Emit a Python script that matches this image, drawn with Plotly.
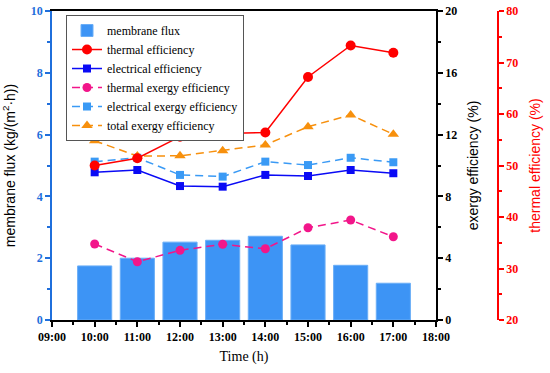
import plotly.graph_objects as go

hours = [10, 11, 12, 13, 14, 15, 16, 17]
tick_vals = [9, 10, 11, 12, 13, 14, 15, 16, 17, 18]
tick_text = ["09:00", "10:00", "11:00", "12:00", "13:00", "14:00", "15:00", "16:00", "17:00", "18:00"]

membrane_flux = [1.75, 2.00, 2.52, 2.58, 2.71, 2.43, 1.77, 1.19]
thermal_eff = [50.0, 51.4, 55.6, 56.2, 56.4, 67.2, 73.3, 71.9]
electrical_eff = [9.56, 9.71, 8.67, 8.63, 9.39, 9.32, 9.71, 9.50]
thermal_exergy = [4.92, 3.77, 4.51, 4.90, 4.61, 5.97, 6.47, 5.39]
electrical_exergy = [10.25, 10.50, 9.39, 9.28, 10.25, 10.03, 10.50, 10.21]
total_exergy = [11.60, 10.61, 10.63, 10.96, 11.33, 12.51, 13.27, 12.02]

SERIF = "Liberation Serif"
SANS = "Liberation Sans"
AXBLUE = "#1f6fdc"

W, H = 550, 373
ML, MR, MT, MB = 52, 30, 11, 53
PW = W - ML - MR  # 468

fig = go.Figure()
fig.add_trace(go.Bar(x=hours, y=membrane_flux, width=0.8, name="membrane flux",
                     marker=dict(color="#3d94f5", line=dict(color="#6aaef7", width=1)),
                     yaxis="y"))
fig.add_trace(go.Scatter(x=hours, y=thermal_eff, name="thermal efficiency", mode="lines+markers",
                         line=dict(color="#ff0000", width=1.5),
                         marker=dict(symbol="circle", size=10, color="#ff0000"), yaxis="y3"))
fig.add_trace(go.Scatter(x=hours, y=electrical_eff, name="electrical efficiency", mode="lines+markers",
                         line=dict(color="#0a0af5", width=1.5),
                         marker=dict(symbol="square", size=8, color="#0a0af5"), yaxis="y2"))
fig.add_trace(go.Scatter(x=hours, y=thermal_exergy, name="thermal exergy efficiency", mode="lines+markers",
                         line=dict(color="#f2168a", width=1.5, dash="8px,5px"),
                         marker=dict(symbol="circle", size=9, color="#f2168a"), yaxis="y2"))
fig.add_trace(go.Scatter(x=hours, y=electrical_exergy, name="electrical exergy efficiency", mode="lines+markers",
                         line=dict(color="#3a9af5", width=1.5, dash="8px,5px"),
                         marker=dict(symbol="square", size=8, color="#3a9af5"), yaxis="y2"))
fig.add_trace(go.Scatter(x=hours, y=total_exergy, name="total exergy efficiency", mode="lines+markers",
                         line=dict(color="#f7900d", width=1.5, dash="8px,5px"),
                         marker=dict(symbol="triangle-up", size=10, color="#f7900d"), yaxis="y2"))

fig.update_layout(
    width=W, height=H,
    margin=dict(l=ML, r=MR, t=MT, b=MB, autoexpand=False),
    paper_bgcolor="white", plot_bgcolor="white",
    showlegend=True,
    legend=dict(x=14 / PW, y=0.987, xanchor="left", yanchor="top",
                bgcolor="white", bordercolor="#555555", borderwidth=1,
                font=dict(family=SERIF, size=12, color="black"),
                tracegroupgap=0, itemwidth=30),
    xaxis=dict(domain=[0, 384 / PW], range=[9, 18], tickvals=tick_vals, ticktext=tick_text,
               automargin=False,
               showline=True, linecolor="black", linewidth=1.5, mirror=True,
               ticks="outside", ticklen=5, tickwidth=1.5, tickcolor="black",
               minor=dict(ticks="outside", ticklen=3, dtick=0.5, tickcolor="black", tickwidth=1.5),
               showgrid=False, zeroline=False,
               tickfont=dict(family=SERIF, size=12, color="black", weight="bold"),
               title=dict(text="Time (h)", font=dict(family=SERIF, size=14, color="black"), standoff=8)),
    yaxis=dict(range=[0, 10], dtick=2, showline=True, linecolor=AXBLUE, linewidth=1.5,
               automargin=False, ticklabeloverflow="allow",
               ticks="outside", ticklen=5, tickwidth=1.5, tickcolor=AXBLUE,
               minor=dict(ticks="outside", ticklen=3, dtick=1, tickcolor=AXBLUE, tickwidth=1.5),
               showgrid=False, zeroline=False,
               tickfont=dict(family=SERIF, size=12, color=AXBLUE, weight="bold"),
               title=dict(text="membrane flux (kg/(m<sup>2</sup>·h))",
                          font=dict(family=SANS, size=14, color="black"), standoff=14)),
    yaxis2=dict(overlaying="y", side="right", anchor="x", range=[0, 20], dtick=4,
                automargin=False, ticklabeloverflow="allow",
                showline=True, linecolor="black", linewidth=1.5,
                ticks="outside", ticklen=5, tickwidth=1.5, tickcolor="black",
                minor=dict(ticks="outside", ticklen=3, dtick=2, tickcolor="black", tickwidth=1.5),
                showgrid=False, zeroline=False,
                tickfont=dict(family=SERIF, size=12, color="black", weight="bold"),
                title=dict(text="exergy efficiency (%)",
                           font=dict(family=SANS, size=14, color="black"), standoff=12)),
    yaxis3=dict(overlaying="y", side="right", anchor="free", position=(498 - 52) / PW,
                automargin=False, ticklabeloverflow="allow",
                range=[20, 80], dtick=10,
                showline=True, linecolor="#ff0000", linewidth=1.5,
                ticks="outside", ticklen=5, tickwidth=1.5, tickcolor="#ff0000",
                minor=dict(ticks="outside", ticklen=3, dtick=5, tickcolor="#ff0000", tickwidth=1.5),
                showgrid=False, zeroline=False,
                tickfont=dict(family=SERIF, size=12, color="#ff0000", weight="bold"),
                title=dict(text="thermal efficiency (%)",
                           font=dict(family=SANS, size=14, color="#ff0000"), standoff=12)),
)

fig.write_html("out.html", config={"displayModeBar": False},
               post_script="document.body.style.margin='0';document.body.style.overflow='hidden';")
